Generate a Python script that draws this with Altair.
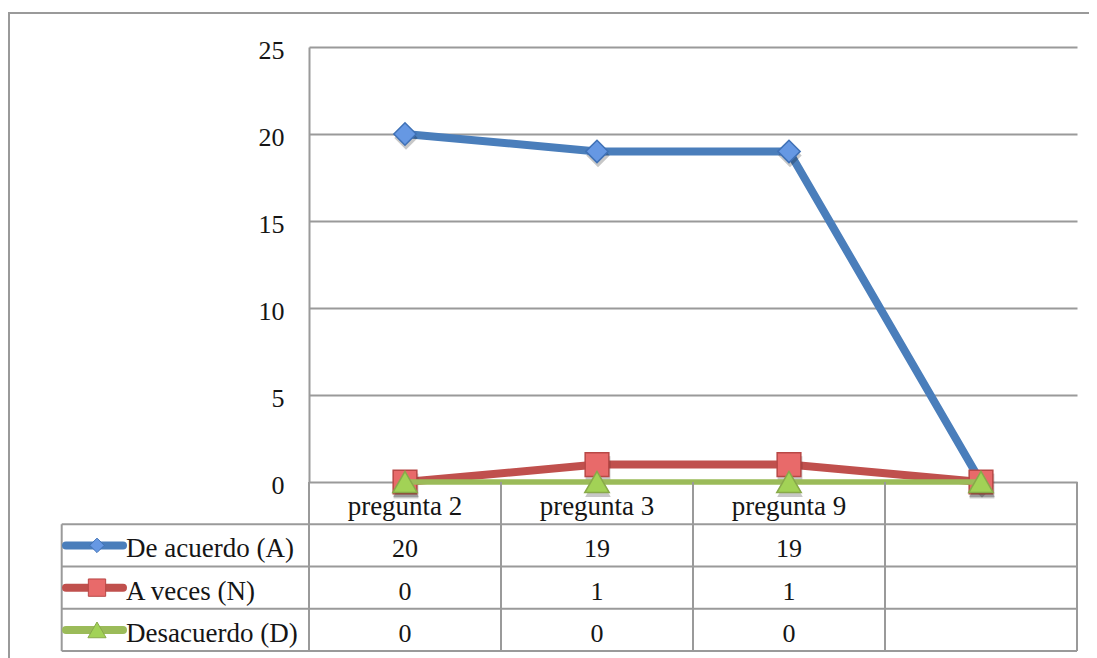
import altair as alt
import pandas as pd

# ---------------- data ----------------
categories = ["pregunta 2", "pregunta 3", "pregunta 9", ""]
series_names = ["De acuerdo (A)", "A veces (N)", "Desacuerdo (D)"]
acuerdo = [20, 19, 19, 0]
aveces = [0, 1, 1, 0]
desacuerdo = [0, 0, 0, 0]
table_acuerdo = ["20", "19", "19", ""]
table_aveces = ["0", "1", "1", ""]
table_desacuerdo = ["0", "0", "0", ""]
y_ticks = [0, 5, 10, 15, 20, 25]

FONT = "Liberation Serif"
FS = 26
FS_WORD = 27
GRID = "#9a9a9a"
TXT = "#151515"

styles = [
    dict(line="#4a7ebb", fill="#6698e3", stroke="#3f71b6", shape="diamond", size=500, lsize=210, sw=8),
    dict(line="#c0504d", fill="#e86a6a", stroke="#b84846", shape="square", size=560, lsize=300, sw=8),
    dict(line="#9bbb59", fill="#a2d256", stroke="#88a94a", shape="triangle-up", size=600, lsize=330, sw=5.5),
]
values = [acuerdo, aveces, desacuerdo]
table_vals = [table_acuerdo, table_aveces, table_desacuerdo]

W, H = 768, 435
UNIT = W / len(categories)
# layout constants (pixel offsets from plot origin converted to x units)
LEFT_EDGE = -247.3 / UNIT
ICON_START = (66 - 309) / UNIT
ICON_END = (123 - 309) / UNIT
ICON_MID = (97 - 309) / UNIT
TEXT_X = (126 - 309) / UNIT

xscale = alt.Scale(domain=[0, len(categories)], nice=False, zero=False)
yscale = alt.Scale(domain=[0, 25], nice=False, zero=False)
tscale = alt.Scale(domain=[0, 4], range=[H, H + 169], nice=False, zero=False)

X = lambda f: alt.X(f, type="quantitative", scale=xscale, axis=None)

# ---------------- plot layers ----------------
plot_layers = []
yaxis = alt.Axis(values=y_ticks, grid=True, gridColor=GRID, gridWidth=2,
                 domainColor=GRID, domainWidth=2, ticks=False, tickSize=0,
                 labelPadding=25, labelFont=FONT, labelFontSize=FS,
                 labelColor=TXT, labelOffset=3, title=None, orient="left")
for k, (name, vals, st) in enumerate(zip(series_names, values, styles)):
    df = pd.DataFrame({"xc": [i + 0.5 for i in range(len(categories))],
                       "value": vals, "series": name})
    line = alt.Chart(df).mark_line(color=st["line"], strokeWidth=st["sw"],
                                   strokeJoin="round").encode(
        x=X("xc"), y=alt.Y("value:Q", scale=yscale, axis=yaxis))
    shadow = alt.Chart(df).mark_point(shape=st["shape"], filled=True, fill="#000000",
                                      opacity=0.22, size=st["size"] * 1.1).encode(
        x=X("xc"), y=alt.Y("value:Q", scale=yscale, axis=yaxis),
        xOffset=alt.value(1), yOffset=alt.value(4))
    pts = alt.Chart(df).mark_point(shape=st["shape"], filled=True, fill=st["fill"],
                                   stroke=st["stroke"], strokeWidth=1.5,
                                   size=st["size"], opacity=1).encode(
        x=X("xc"), y=alt.Y("value:Q", scale=yscale, axis=yaxis))
    plot_layers += [line, shadow, pts]

plot = alt.layer(*plot_layers)

# ---------------- data table layers ----------------
segs = []
for r in range(1, 5):
    segs.append(dict(x=LEFT_EDGE, x2=len(categories), y=r, y2=r))
for c in range(len(categories) + 1):
    segs.append(dict(x=c, x2=c, y=0, y2=4))
segs.append(dict(x=LEFT_EDGE, x2=LEFT_EDGE, y=1, y2=4))
segdf = pd.DataFrame(segs)

TY = lambda f: alt.Y(f, type="quantitative", scale=tscale, axis=None)

grid_lines = alt.Chart(segdf).mark_rule(color=GRID, strokeWidth=2).encode(
    x=X("x"), x2="x2", y=TY("y"), y2="y2")

header = pd.DataFrame({"xc": [i + 0.5 for i in range(len(categories))],
                       "row": [0.5] * len(categories), "label": categories})
header_text = alt.Chart(header).mark_text(font=FONT, fontSize=FS_WORD, color=TXT,
                                          align="center", baseline="middle", dy=4).encode(
    x=X("xc"), y=TY("row"), text="label:N")

cells = []
for r, tv in enumerate(table_vals):
    for i, v in enumerate(tv):
        cells.append(dict(xc=i + 0.5, row=r + 1.5, label=v))
celldf = pd.DataFrame(cells)
cell_text = alt.Chart(celldf).mark_text(font=FONT, fontSize=FS, color=TXT,
                                        align="center", baseline="middle", dy=4).encode(
    x=X("xc"), y=TY("row"), text="label:N")

table_layers = [grid_lines, header_text, cell_text]
for r, (name, st) in enumerate(zip(series_names, styles)):
    ldf = pd.DataFrame({"x": [ICON_START], "x2": [ICON_END], "xm": [ICON_MID],
                        "xt": [TEXT_X], "row": [r + 1.5], "name": [name]})
    icon_line = alt.Chart(ldf).mark_rule(color=st["line"], strokeWidth=8,
                                         strokeCap="round").encode(
        x=X("x"), x2="x2", y=TY("row"))
    icon_pt = alt.Chart(ldf).mark_point(shape=st["shape"], filled=True, fill=st["fill"],
                                        stroke=st["stroke"], strokeWidth=1,
                                        size=st["lsize"], opacity=1).encode(
        x=X("xm"), y=TY("row"))
    icon_txt = alt.Chart(ldf).mark_text(font=FONT, fontSize=FS_WORD, color=TXT,
                                        align="left", baseline="middle", dy=4).encode(
        x=X("xt"), y=TY("row"), text="name:N")
    table_layers += [icon_line, icon_pt, icon_txt]

table = alt.layer(*table_layers)

# outer frame (decoration)
frame = alt.Chart(pd.DataFrame({"k": [0]})).mark_rect(
    filled=False, stroke=GRID, strokeWidth=2).encode(
    x=alt.value(-300), x2=alt.value(W + 60), y=alt.value(-34), y2=alt.value(H + 260))

chart = alt.layer(plot, table).resolve_scale(y="independent")
chart = alt.layer(frame, chart).properties(
    width=W, height=H,
    background="white",
    autosize=alt.AutoSizeParams(type="none"),
    padding={"left": 301, "top": 39, "right": 12, "bottom": 176},
).configure_view(stroke=None)

chart.save("out.html", embed_options={"renderer": "svg", "actions": False})
